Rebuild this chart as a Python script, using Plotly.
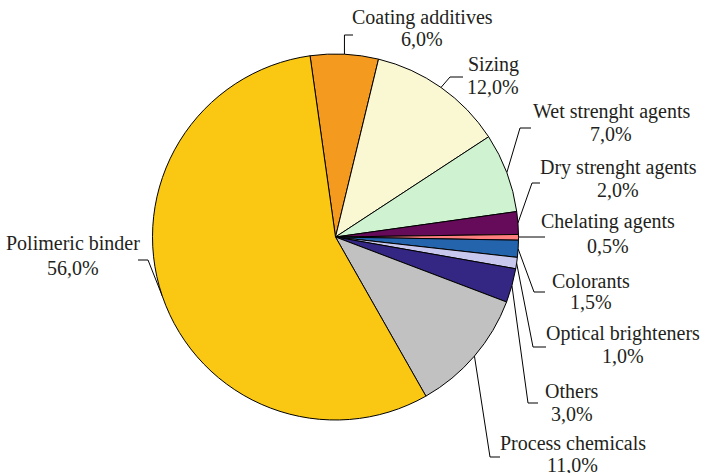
import math
import plotly.graph_objects as go

# ---- data ----
categories = ["Coating additives", "Sizing", "Wet strenght agents", "Dry strenght agents",
              "Chelating agents", "Colorants", "Optical brighteners", "Others",
              "Process chemicals", "Polimeric binder"]
values = [6.0, 12.0, 7.0, 2.0, 0.5, 1.5, 1.0, 3.0, 11.0, 56.0]
value_labels = ["6,0%", "12,0%", "7,0%", "2,0%", "0,5%", "1,5%", "1,0%", "3,0%", "11,0%", "56,0%"]
colors = ["#F39A1F", "#FAF8D2", "#CFF3D0", "#660A5A", "#FF7F7F",
          "#2464AC", "#C8C8EE", "#342683", "#C0C1C0", "#FAC712"]

# ---- layout constants (pixels) ----
W, H = 705, 473
CX, CY, R = 335.5, 237.0, 183.0
ROT = -8.0
label_pos = [(422, 17, 39), (493, 64.5, 86.5), (611, 111.5, 134), (618, 167.5, 189.5),
             (608, 221.5, 245.5), (591, 281, 302), (623, 333, 356), (572, 391, 414),
             (572.5, 442.5, 465), (73, 243, 267.5)]
knees = [(None, 35, 353), (450, 77, 463), (520, 128, 531), (532, 183, 540),
         (None, 237, 545), (534, 292, 545), (533, 347, 546), (528, 403, 538),
         (490, 457, 500), (148, 260, 138)]

fig = go.Figure()

fig.add_trace(go.Pie(
    labels=categories, values=values, sort=False, direction="clockwise",
    rotation=ROT, textinfo="none", hoverinfo="skip", showlegend=False,
    marker=dict(colors=colors, line=dict(color="#000000", width=1)),
    domain=dict(x=[(CX - R) / W, (CX + R) / W], y=[1 - (CY + R) / H, 1 - (CY - R) / H]),
))

total = sum(values)
lx, ly = [], []
cum = 0.0
for v, (kx, ky, ex) in zip(values, knees):
    mid = ROT + (cum + v / 2) / total * 360.0
    cum += v
    a = math.radians(mid)
    px = CX + R * math.sin(a)
    py = CY - R * math.cos(a)
    if kx is None:
        kx = px
    lx += [px, kx, ex, None]
    ly += [py, ky, ky, None]

fig.add_trace(go.Scatter(x=lx, y=ly, mode="lines", line=dict(color="#000000", width=1),
                         hoverinfo="skip", showlegend=False))

font = dict(family="Liberation Serif", size=20, color="#231F20")
for name, val, (tx, y1, y2) in zip(categories, value_labels, label_pos):
    fig.add_annotation(x=tx, y=y1, text=name, showarrow=False, xanchor="center",
                       yanchor="middle", font=font, xref="x", yref="y")
    fig.add_annotation(x=tx, y=y2, text=val, showarrow=False, xanchor="center",
                       yanchor="middle", font=font, xref="x", yref="y")

fig.update_layout(
    width=W, height=H, margin=dict(l=0, r=0, t=0, b=0),
    paper_bgcolor="white", plot_bgcolor="white",
    xaxis=dict(range=[0, W], visible=False, fixedrange=True),
    yaxis=dict(range=[H, 0], visible=False, fixedrange=True),
)

fig.write_html("out.html")
